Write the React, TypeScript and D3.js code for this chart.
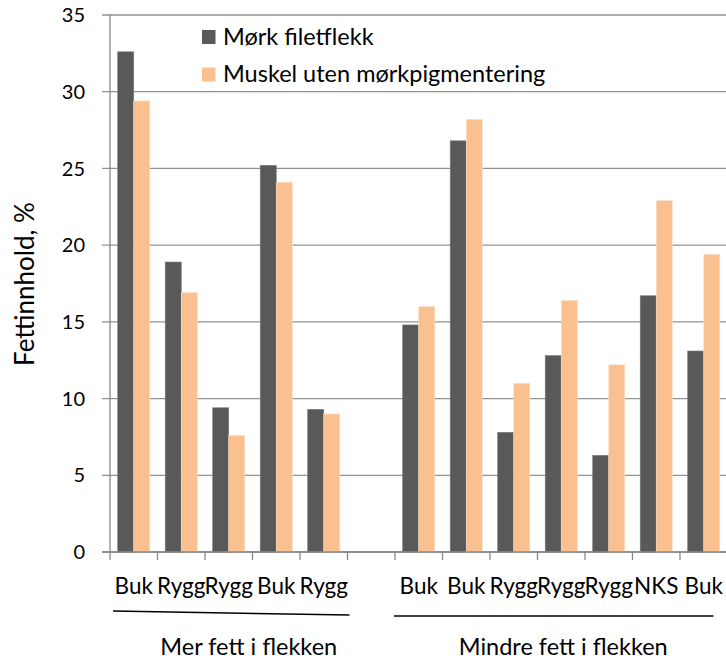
import React from 'react'
import * as d3 from 'd3'

const width = 726
const height = 661

// category labels along the x axis; '' is the empty slot between the groups
const categories = ['Buk', 'Rygg', 'Rygg', 'Buk', 'Rygg', '', 'Buk', 'Buk', 'Rygg', 'Rygg', 'Rygg', 'NKS', 'Buk']
const seriesNames = ['Mørk filetflekk', 'Muskel uten mørkpigmentering']
const darkValues = [32.6, 18.9, 9.4, 25.2, 9.3, null, 14.8, 26.8, 7.8, 12.8, 6.3, 16.7, 13.1]
const lightValues = [29.4, 16.9, 7.6, 24.1, 9.0, null, 16.0, 28.2, 11.0, 16.4, 12.2, 22.9, 19.4]
const yTicks = [0, 5, 10, 15, 20, 25, 30, 35]
const groups = [
  { label: 'Mer fett i flekken', from: 0, to: 4, pad: [3, 2], ly: [611, 615], shift: 18 },
  { label: 'Mindre fett i flekken', from: 6, to: 12, pad: [-1, -14], ly: [616, 616], shift: 0 },
]

const colors = ['#595959', '#FAC090']
const font = 'Lato, "Open Sans", sans-serif'

const margin = { left: 110, top: 15, bottom: 552, right: 727.5 }

function App() {
  const x = d3.scaleBand<number>()
    .domain(d3.range(categories.length))
    .range([margin.left, margin.right])
    .paddingInner(0)
    .paddingOuter(0)

  const x1 = d3.scaleBand<number>()
    .domain([0, 1])
    .range([0, x.bandwidth()])
    .paddingInner(0)
    .paddingOuter(0.48)

  const y = d3.scaleLinear().domain([0, 35]).range([margin.bottom, margin.top])

  const series = [darkValues, lightValues]

  return (
    <svg width={width} height={height} style={{ position: 'absolute', left: 0, top: 0, background: '#fff' }}>
      {/* grid lines */}
      {yTicks.map(t => (
        <line key={t} x1={102} x2={width} y1={y(t)} y2={y(t)} stroke="#929292" strokeWidth={1.3} />
      ))}
      {yTicks.map(t => (
        <text key={'l' + t} x={85} y={y(t)} dy="0.36em" textAnchor="end"
          fontFamily={font} fontSize={20} fill="#000">{t}</text>
      ))}

      {/* bars */}
      {series.map((vals, si) => (
        <g key={si}>
          {vals.map((v, i) => v == null ? null : (
            <rect key={i}
              x={x(i)! + x1(si)!}
              y={y(v)}
              width={x1.bandwidth()}
              height={y(0) - y(v)}
              fill={colors[si]}
              stroke={si === 0 ? '#7a7a7a' : '#fde2c8'}
              strokeWidth={0.6} />
          ))}
        </g>
      ))}

      {/* axes */}
      <line x1={margin.left} x2={margin.left} y1={margin.top} y2={margin.bottom} stroke="#888" strokeWidth={1.3} />
      <line x1={102} x2={width} y1={y(0)} y2={y(0)} stroke="#888" strokeWidth={1.3} />
      {d3.range(categories.length + 1).map(i => {
        const xx = margin.left + i * x.step()
        return <line key={i} x1={xx} x2={xx} y1={y(0)} y2={y(0) + 8} stroke="#888" strokeWidth={1.3} />
      })}

      {categories.map((c, i) => (
        <text key={i} x={x(i)! + x.bandwidth() / 2} y={594} textAnchor="middle"
          fontFamily={font} fontSize={22.5} fill="#000">{c}</text>
      ))}

      {/* group brackets */}
      {groups.map(g => {
        const gx0 = x(g.from)!
        const gx1 = x(g.to)! + x.bandwidth()
        return (
          <g key={g.label}>
            <line x1={gx0 + g.pad[0]} x2={gx1 + g.pad[1]} y1={g.ly[0]} y2={g.ly[1]}
              stroke="#000" strokeWidth={1.5} />
            <text x={(gx0 + gx1) / 2 + 2 + g.shift} y={655} textAnchor="middle"
              fontFamily={font} fontSize={23.5} fill="#000">{g.label}</text>
          </g>
        )
      })}

      {/* y title */}
      <text transform={`translate(25,284) rotate(-90)`}
        textAnchor="middle" dy="0.35em" fontFamily={font} fontSize={26} fill="#000">Fettinnhold, %</text>

      {/* legend */}
      {seriesNames.map((s, i) => (
        <g key={s} transform={`translate(202,${30 + i * 37.5})`}>
          <rect width={13.5} height={14} fill={colors[i]} />
          <text x={21} y={14.5} fontFamily={font} fontSize={23.5} fill="#000">{s}</text>
        </g>
      ))}
    </svg>
  )
}

export default App
